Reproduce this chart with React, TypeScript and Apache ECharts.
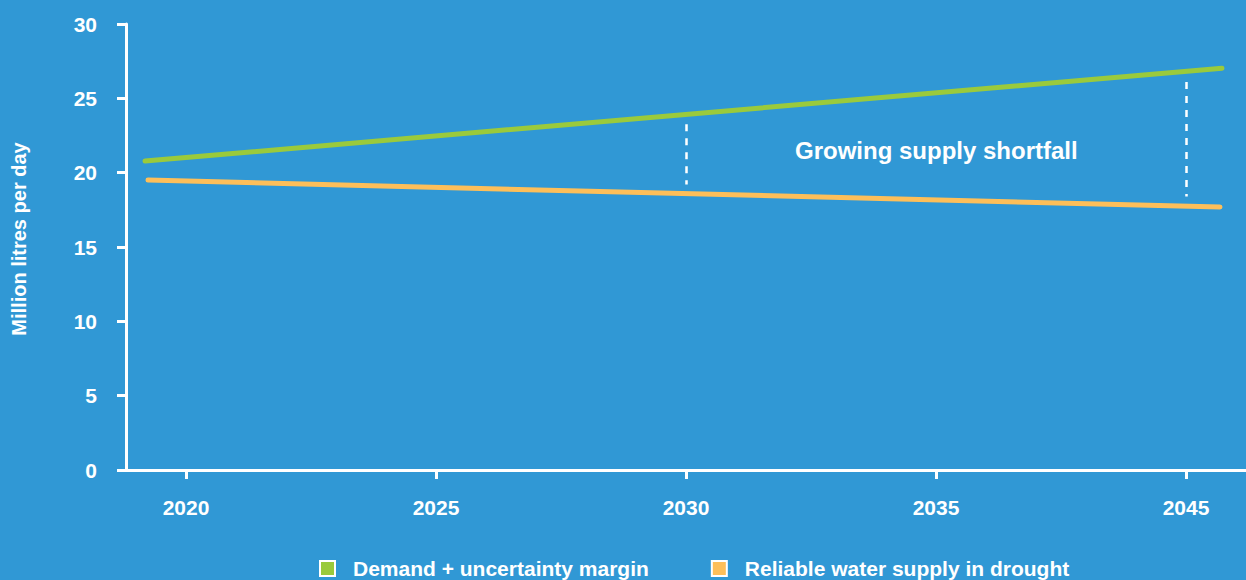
import React, { useEffect, useRef } from "react";
import * as echarts from "echarts";

const tickLabels = ["2020", "2025", "2030", "2035", "2045"];
const demandSeries: [number, number][] = [
  [-0.164, 20.78],
  [4.144, 27.03],
];
const supplySeries: [number, number][] = [
  [-0.152, 19.5],
  [4.136, 17.69],
];
const gapMarkers: { x: number; top: number; bottom: number }[] = [
  { x: 2, top: 23.25, bottom: 19.2 },
  { x: 4, top: 26.1, bottom: 18.4 },
];
const seriesNames = ["Demand + uncertainty margin", "Reliable water supply in drought"];
const yAxisTitle = "Million litres per day";
const annotation = "Growing supply shortfall";

const BG = "#3098d5";
const GREEN = "#9aca3c";
const ORANGE = "#fdbf5a";
const FONT = "'Liberation Sans', Arial, sans-serif";

export default function App() {
  const ref = useRef<HTMLDivElement>(null);
  useEffect(() => {
    if (!ref.current) return;
    const chart = echarts.init(ref.current, null, { renderer: "svg" });
    chart.setOption({
      animation: false,
      backgroundColor: BG,
      textStyle: { fontFamily: FONT },
      grid: { left: 126, right: 0, top: 24, bottom: 110, containLabel: false, outerBoundsMode: "none" },
      legend: {
        left: 314,
        top: 553,
        itemGap: 62,
        itemWidth: 15,
        itemHeight: 15,
        icon: "rect",
        textStyle: {
          color: "#fff",
          fontWeight: "bold",
          fontSize: 21,
          fontFamily: FONT,
          padding: [0, 0, 0, 13],
        },
        data: seriesNames.map((n) => ({
          name: n,
          itemStyle: { borderColor: "#fff", borderWidth: 2 },
        })),
      },
      xAxis: {
        type: "value",
        min: -0.24,
        max: 4.24,
        interval: 1,
        splitLine: { show: false },
        axisLine: { show: true, onZero: false, lineStyle: { color: "#fff", width: 3 } },
        axisTick: { show: true, length: 9, lineStyle: { color: "#fff", width: 3 }, customValues: [0, 1, 2, 3, 4] },
        axisLabel: {
          color: "#fff",
          fontWeight: "bold",
          fontSize: 21,
          fontFamily: FONT,
          margin: 27,
          customValues: [0, 1, 2, 3, 4],
          formatter: (v: number) => tickLabels[Math.round(v)] ?? "",
        },
      },
      yAxis: {
        type: "value",
        min: 0,
        max: 30,
        interval: 5,
        splitLine: { show: false },
        axisLine: { show: true, onZero: false, lineStyle: { color: "#fff", width: 3 } },
        axisTick: { show: true, length: 9, lineStyle: { color: "#fff", width: 3 } },
        axisLabel: { color: "#fff", fontWeight: "bold", fontSize: 21, fontFamily: FONT, margin: 29 },
      },
      series: [
        {
          name: seriesNames[0],
          type: "line",
          data: demandSeries,
          symbol: "none",
          color: GREEN,
          lineStyle: { color: GREEN, width: 5, cap: "round" },
          markLine: {
            silent: true,
            symbol: "none",
            label: { show: false },
            lineStyle: { color: "#fff", width: 2.5, type: [7, 7] },
            data: gapMarkers.map((g) => [
              { coord: [g.x, g.top] },
              { coord: [g.x, g.bottom] },
            ]),
          },
        },
        {
          name: seriesNames[1],
          type: "line",
          data: supplySeries,
          symbol: "none",
          color: ORANGE,
          lineStyle: { color: ORANGE, width: 5, cap: "round" },
        },
      ],
      graphic: [
        {
          type: "text",
          x: 19,
          y: 239,
          rotation: Math.PI / 2,
          style: {
            text: yAxisTitle,
            fill: "#fff",
            font: `bold 20px ${FONT}`,
            align: "center",
            verticalAlign: "middle",
          },
        },
        {
          type: "text",
          left: 795,
          top: 138,
          style: {
            text: annotation,
            fill: "#fff",
            font: `bold 24px ${FONT}`,
          },
        },
      ],
    });
    return () => chart.dispose();
  }, []);
  return <div ref={ref} style={{ width: 1246, height: 580, position: "absolute", left: 0, top: 0 }} />;
}
